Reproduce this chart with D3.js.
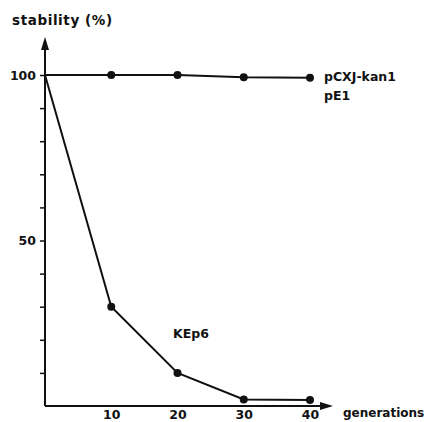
<!DOCTYPE html>
<html>
<head>
<meta charset="utf-8">
<script src="https://cdn.jsdelivr.net/npm/d3@7"></script>
<style>
body { margin: 0; background: #fff; }
text { font-family: "DejaVu Sans", sans-serif; font-weight: bold; fill: #111; }
</style>
</head>
<body>
<div id="chart-area"></div>
<script>
var generations = [0, 10, 20, 30, 40];
var pcxjValues = [100, 100, 100, 99.3, 99.2];
var kep6Values = [100, 30, 10, 2, 1.8];
var xTickValues = [10, 20, 30, 40];
var yTickValues = [10, 20, 30, 40, 50, 60, 70, 80, 90, 100];
var yLabelValues = [50, 100];

var W = 439, H = 422;
var x0 = 45, y0 = 406;

var svg = d3.select('#chart-area')
    .append('svg')
    .attr('width', W)
    .attr('height', H);

var x = d3.scaleLinear().domain([0, 40]).range([x0, 310]);
var y = d3.scaleLinear().domain([0, 100]).range([y0, 75]);

// axes
var xAxis = d3.axisBottom(x)
    .tickValues(xTickValues)
    .tickSize(0)
    .tickPadding(4)
    .tickFormat(d3.format('d'));
var yAxis = d3.axisLeft(y)
    .tickValues(yTickValues)
    .tickSize(5)
    .tickFormat(d => yLabelValues.includes(d) ? d : '');

var gx = svg.append('g').attr('transform', `translate(0, ${y0})`).call(xAxis);
var gy = svg.append('g').attr('transform', `translate(${x0}, 0)`).call(yAxis);
gx.select('.domain').remove();
gy.select('.domain').remove();
gx.selectAll('text').attr('font-size', 12.5).attr('font-family', null);
gy.selectAll('text').attr('font-size', 12.5).attr('font-family', null).attr('x', -9);
gy.selectAll('line').attr('stroke', '#111').attr('stroke-width', 1.5);

// axis lines with arrows
svg.append('line').attr('x1', x0).attr('y1', y0).attr('x2', x0).attr('y2', 42)
    .attr('stroke', '#111').attr('stroke-width', 2);
svg.append('path').attr('d', `M${x0 - 4},${50} L${x0},${37} L${x0 + 4},${50} Z`).attr('fill', '#111');
svg.append('line').attr('x1', x0).attr('y1', y0).attr('x2', 326).attr('y2', y0)
    .attr('stroke', '#111').attr('stroke-width', 2);
svg.append('path').attr('d', `M${320},${y0 - 4} L${333},${y0} L${320},${y0 + 4} Z`).attr('fill', '#111');

var line = d3.line().x(d => x(d[0])).y(d => y(d[1]));

function drawSeries(values) {
    var pts = generations.map((g, i) => [g, values[i]]);
    svg.append('path').datum(pts)
        .attr('d', line)
        .attr('fill', 'none')
        .attr('stroke', '#111')
        .attr('stroke-width', 2);
    svg.selectAll(null).data(pts.slice(1)).enter()
        .append('circle')
        .attr('cx', d => x(d[0]))
        .attr('cy', d => y(d[1]))
        .attr('r', 4)
        .attr('fill', '#111');
}
drawSeries(pcxjValues);
drawSeries(kep6Values);

// labels
svg.append('text').attr('x', 12).attr('y', 25).attr('font-size', 13.5)
    .attr('letter-spacing', 0.6).text('stability (%)');
svg.append('text').attr('x', 324).attr('y', 81).attr('font-size', 12.5).text('pCXJ-kan1');
svg.append('text').attr('x', 324).attr('y', 100).attr('font-size', 12.5).text('pE1');
svg.append('text').attr('x', 173).attr('y', 338).attr('font-size', 12.5).text('KEp6');
svg.append('text').attr('x', 343).attr('y', 417).attr('font-size', 12).text('generations');
</script>
</body>
</html>
